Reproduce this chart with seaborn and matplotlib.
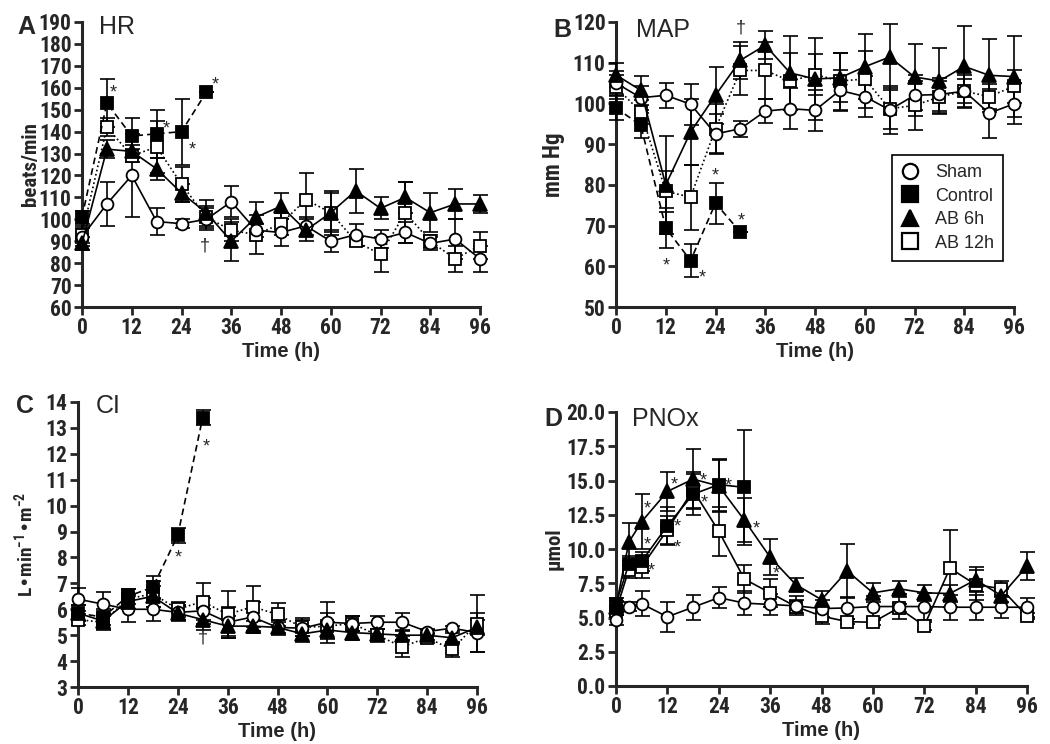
import numpy as np
import matplotlib
matplotlib.use("Agg")
import matplotlib.pyplot as plt
import matplotlib.transforms as mtransforms
from matplotlib import font_manager as fm
from matplotlib.lines import Line2D
import seaborn as sns

# ── time points ──────────────────────────────────────────────────────────────
hours = [0, 6, 12, 18, 24, 30, 36, 42, 48, 54, 60, 66, 72, 78, 84, 90, 96]
hours_ctrl = [0, 6, 12, 18, 24, 30]
hours_pnox = [0, 3, 6, 12, 18, 24, 30, 36, 42, 48, 54, 60, 66, 72, 78, 84, 90, 96]
hours_pnox_ctrl = [0, 3, 6, 12, 18, 24, 30]
x_ticks = [0, 12, 24, 36, 48, 60, 72, 84, 96]

# ── A: HR (beats/min) ────────────────────────────────────────────────────────
hr_sham = [92, 107, 120, 99, 98, 100, 108, 95, 94, 97, 90, 93, 91, 94, 89, 91, 82]
hr_sham_sem = [4, 10, 19, 6, 2, 5, 7, 3, 6, 4, 5, 5, 4, 5, 3, 9, 6]
hr_ab6 = [89, 132, 131, 123, 112, 103, 90, 101, 106, 95, 103, 113, 105, 110, 103, 107, 107]
hr_ab6_sem = [3, 4, 3, 5, 4, 6, 9, 7, 6, 5, 9, 10, 5, 7, 9, 7, 4]
hr_ab12 = [93, 142, 129, 133, 116, 101, 95, 93, 98, 109, 103, 90, 84, 103, 90, 82, 88]
hr_ab12_sem = [4, 4, 3, 12, 8, 5, 5, 9, 5, 12, 10, 2, 8, 14, 3, 6, 6]
hr_ctrl = [101, 153, 138, 139, 140, 158]
hr_ctrl_sem = [3, 11, 8, 11, 15, 0]
hr_star_x = [7.6, 20.4, 26.7, 32.1]
hr_star_y = [160, 143.8, 134.3, 163.7]
hr_dagger = (29.7, 87.7)

# ── B: MAP (mm Hg) ───────────────────────────────────────────────────────────
map_sham = [105, 101.4, 102, 99.8, 92.5, 93.8, 98.1, 98.7, 98.3, 103.2, 101.7, 98.4, 102, 102.2, 103, 97.6, 99.9]
map_sham_sem = [3, 3, 3, 5, 5, 2, 3, 5, 5, 5, 5, 6, 5, 4, 4, 6, 5]
map_ab6 = [107, 103.2, 80, 93, 102, 110.6, 114.3, 107.5, 106, 106.3, 109, 111.4, 106.5, 105.5, 109.1, 106.9, 106.6]
map_ab6_sem = [3, 3.5, 12, 8, 7, 4.5, 3.5, 9, 10, 6, 8, 8, 8, 8, 10, 9, 10]
map_ab12 = [104, 97.9, 78.4, 77, 93.8, 108.1, 108.1, 105.5, 107.1, 105.5, 106, 98.7, 99.5, 101.6, 103, 101.7, 104.2]
map_ab12_sem = [3, 3, 5, 8, 6, 6, 7, 7, 5, 7, 7, 5, 6, 4, 3, 3, 4]
map_ctrl = [98.9, 94.6, 69.4, 61.4, 75.5, 68.4]
map_ctrl_sem = [3, 3, 5, 4, 5, 0]
map_star_x = [12.2, 20.7, 23.9, 30.3]
map_star_y = [61.5, 58.6, 83.6, 72.6]
map_dagger = (30.1, 118.5)

# ── C: CI (L/min/m2) ─────────────────────────────────────────────────────────
ci_sham = [6.39, 6.2, 6.0, 6.0, 5.88, 5.94, 5.5, 5.7, 5.3, 5.27, 5.5, 5.45, 5.5, 5.5, 5.14, 5.27, 5.1]
ci_sham_sem = [0.45, 0.45, 0.5, 0.45, 0.3, 0.5, 0.6, 0.6, 0.3, 0.3, 0.8, 0.3, 0.25, 0.35, 0.1, 0.1, 0.75]
ci_ab6 = [5.85, 5.55, 6.3, 6.5, 5.85, 5.6, 5.35, 5.35, 5.3, 5.05, 5.2, 5.1, 5.05, 5.0, 5.0, 4.9, 5.3]
ci_ab6_sem = [0.3, 0.3, 0.3, 0.4, 0.3, 0.4, 0.4, 0.2, 0.2, 0.3, 0.3, 0.3, 0.2, 0.2, 0.2, 0.2, 0.3]
ci_ab12 = [5.6, 5.5, 6.4, 6.6, 6.0, 6.3, 5.8, 6.1, 5.8, 5.3, 5.35, 5.45, 5.0, 4.55, 4.9, 4.45, 5.45]
ci_ab12_sem = [0.2, 0.3, 0.4, 0.5, 0.3, 0.7, 0.9, 0.8, 0.45, 0.35, 0.5, 0.3, 0.25, 0.4, 0.2, 0.3, 1.1]
ci_ctrl = [5.85, 5.7, 6.5, 6.85, 8.85, 13.4]
ci_ctrl_sem = [0.3, 0.3, 0.3, 0.45, 0.3, 0.3]
ci_star_x = [24.1, 30.8]
ci_star_y = [8.2, 12.46]
ci_dagger = (30.0, 4.9)

# ── D: PNOx (µmol) ───────────────────────────────────────────────────────────
pnox_sham = [4.8, 5.8, 6.0, 5.05, 5.75, 6.45, 6.05, 5.95, 5.85, 5.65, 5.7, 5.8, 5.8, 5.8, 5.75, 5.75, 5.75, 5.75]
pnox_sham_sem = [0.35, 0.3, 0.9, 1.1, 0.9, 0.75, 0.9, 0.75, 0.7, 0.6, 0.8, 0.8, 0.9, 1.0, 0.9, 0.9, 0.8, 0.7]
pnox_ab6 = [5.8, 10.5, 12.0, 14.2, 15.1, 14.6, 12.1, 9.4, 7.4, 6.3, 8.4, 6.8, 7.1, 6.8, 6.75, 7.75, 6.6, 8.75]
pnox_ab6_sem = [0.4, 1.4, 2.0, 1.45, 2.2, 1.9, 1.6, 1.3, 0.5, 0.6, 2.0, 0.7, 0.6, 0.6, 0.6, 0.9, 0.5, 1.0]
pnox_ab12 = [5.5, 8.5, 8.7, 11.4, 14.3, 11.3, 7.8, 6.8, 5.8, 5.1, 4.7, 4.65, 5.7, 4.4, 8.6, 7.4, 7.1, 5.1]
pnox_ab12_sem = [0.3, 0.6, 0.8, 1.0, 1.3, 1.8, 1.0, 1.0, 0.5, 0.6, 0.2, 0.2, 0.3, 0.3, 2.8, 1.1, 0.6, 0.2]
pnox_ctrl = [6.0, 8.9, 9.1, 11.7, 14.0, 14.7, 14.5]
pnox_ctrl_sem = [0.4, 0.6, 0.7, 1.4, 1.5, 1.9, 4.2]
pnox_star_x = [7.3, 7.3, 8.3, 13.5, 14.4, 14.4, 20.4, 20.5, 26.3, 32.8, 37.5]
pnox_star_y = [13.3, 10.7, 8.8, 15.1, 12.0, 10.5, 15.4, 13.8, 15.0, 11.9, 8.6]

group_names = ["Sham", "Control", "AB 6h", "AB 12h"]

# marker / line look per group (GraphPad-like)
STYLE = {
    "Sham":    dict(marker="o", mfc="white", ms=8.5, ls="-"),
    "Control": dict(marker="s", mfc="black", ms=8.5, ls=(0, (4, 2.5))),
    "AB 6h":   dict(marker="^", mfc="black", ms=9.5, ls="-"),
    "AB 12h":  dict(marker="s", mfc="white", ms=8.5, ls=(0, (1, 1.6))),
}

sns.set_theme(style="ticks")
REGULAR = ["Liberation Sans", "DejaVu Sans"]
plt.rcParams["font.family"] = REGULAR
plt.rcParams["mathtext.default"] = "regular"
plt.rcParams["axes.linewidth"] = 2.2


# condensed bold face for the numbers (Prism uses Arial Narrow-like digits)
def _is_bold(f):
    w = f.weight
    return w == "bold" or (isinstance(w, int) and w >= 700)


_pref = ["Liberation Sans Narrow", "Arial Narrow", "Archivo Narrow",
         "Roboto Condensed", "PT Sans Narrow", "Open Sans Condensed"]
_bold_faces = [f for f in fm.fontManager.ttflist if _is_bold(f)]
_cands = sorted([f for f in _bold_faces if f.name in _pref], key=lambda f: _pref.index(f.name))
if not _cands:
    _cands = [f for f in _bold_faces
              if "narrow" in f.name.lower() or "condensed" in f.name.lower()
              or str(f.stretch) in ("condensed", "semi-condensed")]
if _cands:
    NARROW = dict(family=[_cands[0].name] + REGULAR, stretch=_cands[0].stretch)
else:
    NARROW = dict(family=REGULAR)

fig = plt.figure(figsize=(10.5, 7.44), dpi=100)
W, H = 1050, 744


def px_axes(left, right, top, bottom):
    return fig.add_axes([left / W, 1 - bottom / H, (right - left) / W, (bottom - top) / H])


def draw_series(ax, name, x, y, sem, solid_lines=False):
    st = STYLE[name]
    ls = "-" if solid_lines else st["ls"]
    ax.errorbar(x, y, yerr=sem, fmt="none", ecolor="black", elinewidth=1.2,
                capsize=5.4, capthick=1.2, clip_on=False, zorder=3)
    sns.lineplot(x=x, y=y, ax=ax, color="black", linewidth=1.2, linestyle=ls,
                 marker=st["marker"], markersize=st["ms"], markerfacecolor=st["mfc"],
                 markeredgecolor="black", markeredgewidth=1.3, clip_on=False,
                 legend=False, errorbar=None, sort=False, zorder=4)


def narrow_bold(size):
    return fm.FontProperties(weight="bold", size=size, **NARROW)


def tick_font(ax):
    for lab in ax.get_xticklabels() + ax.get_yticklabels():
        lab.set_fontproperties(narrow_bold(15.5))


def style_axes(ax, ylim, ystep, ylabel, label_x, label_size):
    ax.set_xlim(0, 96)
    ax.set_ylim(*ylim)
    ax.set_xticks(x_ticks)
    ax.set_yticks(np.arange(ylim[0], ylim[1] + ystep / 2, ystep))
    sns.despine(ax=ax)
    ax.tick_params(direction="out", length=6, width=2, pad=1.5)
    tick_font(ax)
    ax.set_xlabel("Time (h)", fontsize=14.5, fontweight="bold", family=REGULAR, labelpad=2)
    ax.set_ylabel(ylabel, fontproperties=narrow_bold(label_size))
    ax.yaxis.set_label_coords(label_x, 0.5)


def annotate(ax, xs, ys, dagger):
    star_tr = mtransforms.offset_copy(ax.transData, fig=fig, y=-4, units="points")
    for sx, sy in zip(xs, ys):
        ax.text(sx, sy, "*", transform=star_tr, ha="center", va="center",
                fontsize=13, clip_on=False, zorder=6)
    if dagger is not None:
        ax.text(dagger[0], dagger[1], "\u2020", ha="center", va="center",
                fontsize=13, clip_on=False, zorder=6)


def panel_text(letter, lx, title, tx, y):
    fig.text(lx / W, 1 - y / H, letter, fontsize=18, fontweight="bold", ha="left", va="center")
    fig.text(tx / W, 1 - y / H, title, fontsize=18, ha="left", va="center")


# ── A: HR ────────────────────────────────────────────────────────────────────
ax_a = px_axes(82, 480, 22, 307)
draw_series(ax_a, "AB 12h", hours, hr_ab12, hr_ab12_sem)
draw_series(ax_a, "Sham", hours, hr_sham, hr_sham_sem)
draw_series(ax_a, "AB 6h", hours, hr_ab6, hr_ab6_sem)
draw_series(ax_a, "Control", hours_ctrl, hr_ctrl, hr_ctrl_sem)
style_axes(ax_a, (60, 190), 10, "beats/min", -0.105, 15)
annotate(ax_a, hr_star_x, hr_star_y, hr_dagger)
panel_text("A", 17, "HR", 99, 27)

# ── B: MAP ───────────────────────────────────────────────────────────────────
ax_b = px_axes(616, 1014, 22, 307)
draw_series(ax_b, "AB 12h", hours, map_ab12, map_ab12_sem)
draw_series(ax_b, "Sham", hours, map_sham, map_sham_sem)
draw_series(ax_b, "AB 6h", hours, map_ab6, map_ab6_sem)
draw_series(ax_b, "Control", hours_ctrl, map_ctrl, map_ctrl_sem)
style_axes(ax_b, (50, 120), 10, "mm Hg", -0.128, 16.5)
annotate(ax_b, map_star_x, map_star_y, map_dagger)
panel_text("B", 553, "MAP", 636, 30)

handles = [Line2D([], [], color="black", ls="none", marker=STYLE[g]["marker"],
                  mfc=STYLE[g]["mfc"], mec="black", mew=1.6,
                  ms=STYLE[g]["ms"] + 2.5) for g in group_names]
leg = ax_b.legend(handles, group_names, loc="upper left",
                  bbox_to_anchor=(892 / W, 1 - 155 / H), bbox_transform=fig.transFigure,
                  frameon=True, fancybox=False, edgecolor="black", framealpha=1,
                  prop={"family": REGULAR, "size": 13}, handlelength=1.0,
                  handletextpad=0.9, labelspacing=0.36, borderpad=0.5, borderaxespad=0)
leg.get_frame().set_linewidth(1.2)

# ── C: CI ────────────────────────────────────────────────────────────────────
ax_c = px_axes(78, 477, 402, 687)
draw_series(ax_c, "AB 12h", hours, ci_ab12, ci_ab12_sem)
draw_series(ax_c, "Sham", hours, ci_sham, ci_sham_sem)
draw_series(ax_c, "AB 6h", hours, ci_ab6, ci_ab6_sem)
draw_series(ax_c, "Control", hours_ctrl, ci_ctrl, ci_ctrl_sem)
style_axes(ax_c, (3, 14), 1, "L\u2022min$^{-1}$\u2022m$^{-2}$", -0.105, 14)
annotate(ax_c, ci_star_x, ci_star_y, ci_dagger)
panel_text("C", 16, "CI", 96, 406)

# ── D: PNOx ──────────────────────────────────────────────────────────────────
ax_d = px_axes(616, 1027, 412, 686)
draw_series(ax_d, "AB 12h", hours_pnox, pnox_ab12, pnox_ab12_sem, solid_lines=True)
draw_series(ax_d, "Sham", hours_pnox, pnox_sham, pnox_sham_sem, solid_lines=True)
draw_series(ax_d, "AB 6h", hours_pnox, pnox_ab6, pnox_ab6_sem, solid_lines=True)
draw_series(ax_d, "Control", hours_pnox_ctrl, pnox_ctrl, pnox_ctrl_sem, solid_lines=True)
ax_d.yaxis.set_major_formatter(matplotlib.ticker.FormatStrFormatter("%.1f"))
style_axes(ax_d, (0, 20), 2.5, "\u00b5mol", -0.127, 15)
tick_font(ax_d)
annotate(ax_d, pnox_star_x, pnox_star_y, None)
panel_text("D", 544, "PNOx", 632, 419)

fig.savefig("out.png", dpi=100)
